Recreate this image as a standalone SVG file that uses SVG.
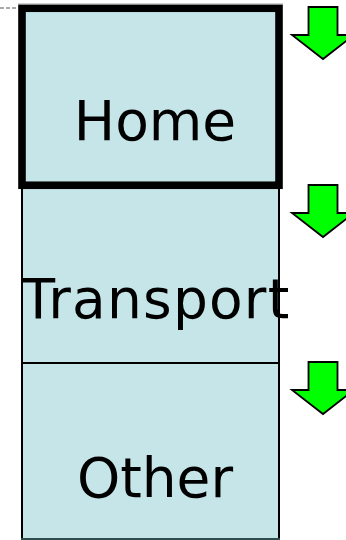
<svg xmlns="http://www.w3.org/2000/svg" xmlns:xlink="http://www.w3.org/1999/xlink" width="346" height="540" viewBox="0 0 346 540">
  <style>
    .cell { fill: #C5E5E8; }
    .edge { stroke: #000; stroke-width: 2; fill: none; }
    .label { font-family: "DejaVu Sans", "Liberation Sans", sans-serif; font-size: 55px; fill: #000; text-anchor: middle; }
    .arrow { fill: #00FF00; stroke: #000; stroke-width: 1.8; stroke-linejoin: miter; }
  </style>
  <defs>
    <!-- down-pointing block arrow, origin at the top of its shaft -->
    <polygon id="downArrow" points="308.5,0 337.5,0 337.5,28 354,28 323,52 292,28 308.5,28"/>
  </defs>

  <!-- dashed guide at the upper left -->
  <line x1="0" y1="8" x2="17" y2="8" stroke="#555" stroke-width="1" stroke-dasharray="4,2"/>

  <!-- lower stack: Transport and Other share one column -->
  <g id="transport">
    <rect class="cell" x="22" y="185" width="257" height="178"/>
    <line class="edge" x1="22" y1="185" x2="22" y2="363"/>
    <line class="edge" x1="279" y1="185" x2="279" y2="363"/>
    <text class="label" x="156" y="318" letter-spacing="1.2">Transport</text>
  </g>

  <g id="other">
    <rect class="cell" x="22" y="363" width="257" height="176"/>
    <line class="edge" x1="22" y1="363" x2="22" y2="540"/>
    <line class="edge" x1="279" y1="363" x2="279" y2="540"/>
    <line class="edge" x1="21" y1="363" x2="280" y2="363"/>
    <line x1="21" y1="539" x2="280" y2="539" stroke="#2F4F4F" stroke-width="2"/>
    <text class="label" x="155" y="497">Other</text>
  </g>

  <!-- selected cell with heavy border -->
  <g id="home">
    <rect class="cell" x="22" y="8.25" width="257" height="177" stroke="#000" stroke-width="7.6"/>
    <line x1="18" y1="4" x2="283" y2="4" stroke="#A0A0A0" stroke-width="1"/>
    <text class="label" x="155" y="140">Home</text>
  </g>

  <g id="arrow-home">
    <use xlink:href="#downArrow" class="arrow" transform="translate(0,7)"/>
  </g>
  <g id="arrow-transport">
    <use xlink:href="#downArrow" class="arrow" transform="translate(0,185)"/>
  </g>
  <g id="arrow-other">
    <use xlink:href="#downArrow" class="arrow" transform="translate(0,362)"/>
  </g>
</svg>
